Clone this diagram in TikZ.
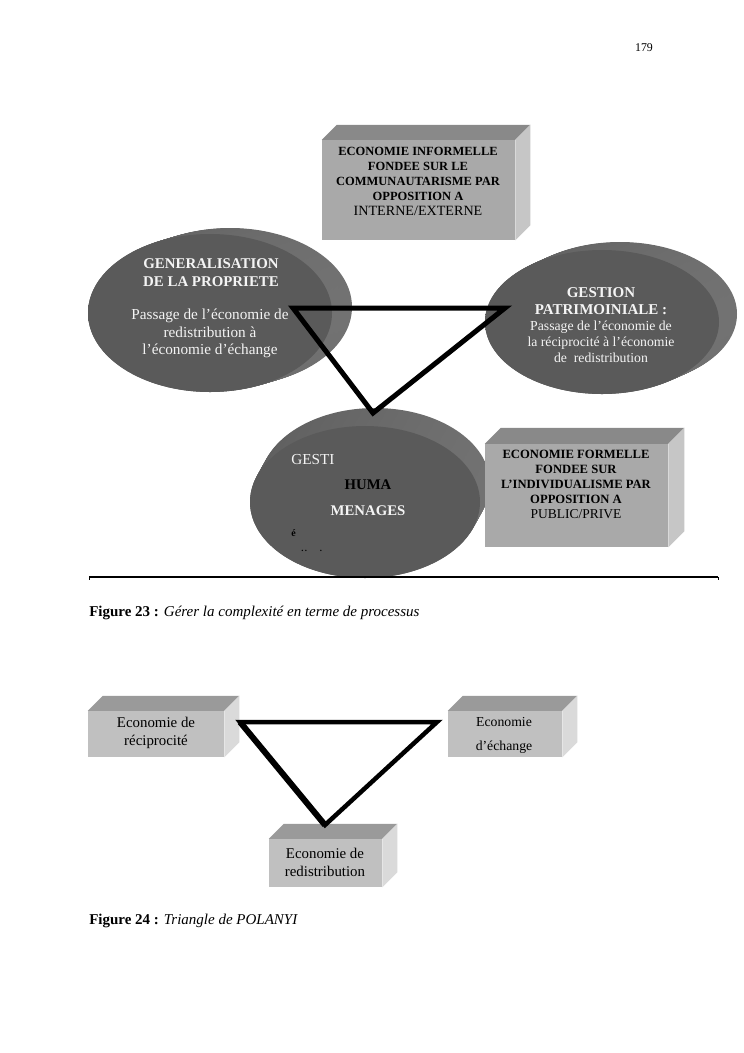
\documentclass[tikz,border=0pt]{standalone}
\usepackage{fontspec}
\setmainfont{Liberation Serif}
\usetikzlibrary{shapes.geometric,calc,fit}
\definecolor{ellfront}{HTML}{5A5A5A}
\definecolor{ellsideL}{HTML}{5F5F5F}
\definecolor{ellsideR}{HTML}{727272}
\definecolor{boxfront}{HTML}{A9A9A9}
\definecolor{boxtop}{HTML}{898989}
\definecolor{boxside}{HTML}{C6C6C6}
\definecolor{lboxfront}{HTML}{C0C0C0}
\definecolor{lboxtop}{HTML}{9A9A9A}
\definecolor{lboxside}{HTML}{DADADA}
\definecolor{txtwhite}{HTML}{F4F4F4}
% 3D box: name, x1, y1, x2, y2, depth, front, top, side
\newcommand\cubebox[9]{%
  \coordinate (#1-a) at (#2,#3);
  \coordinate (#1-b) at (#4,#5);
  \node[fit=(#1-a)(#1-b), inner sep=0pt, fill=#7] (#1) {};
  \fill[#8] (#1.north west) -- ++(#6,-#6) -- ($(#1.north east)+(#6,-#6)$) -- (#1.north east) -- cycle;
  \fill[#9] (#1.north east) -- ++(#6,-#6) -- ($(#1.south east)+(#6,-#6)$) -- (#1.south east) -- cycle;
}
% disk: name, cx, cy, rx, ry, dx, dy
\newcommand\disk[7]{%
  \foreach \k in {0,...,16}{%
    \pgfmathsetmacro\f{1-\k/16}%
    \shade[left color=ellsideL, right color=ellsideR] ({#2+\f*#6},{#3+\f*#7}) ellipse [x radius=#4, y radius=#5];
  }
  \node[ellipse, fill=ellfront, inner sep=0pt, minimum width={2*#4*0.8pt}, minimum height={2*#5*0.8pt}] (#1) at (#2,#3) {};
}
\begin{document}
\begin{tikzpicture}[x=0.8pt,y=-0.8pt,
  whitetxt/.style={text=txtwhite, align=center, inner sep=0pt},
  blacktxt/.style={text=black, align=center, inner sep=0pt},
  tri/.style={line width=4pt, black, line join=miter},
  tri2/.style={line width=3.6pt, black, line join=miter}]
\useasboundingbox[fill=white] (0,0) rectangle (744,1053);

\node[blacktxt, font=\fontsize{9.5}{11}\selectfont] (pagenum) at (644,48) {179};

% ---------- Figure 23 ----------
\cubebox{informelle}{322}{140}{515}{240}{15}{boxfront}{boxtop}{boxside}
\node[blacktxt] (informelletxt) at (418,181.5) {\fontsize{10}{11.6}\selectfont\bfseries ECONOMIE INFORMELLE\\ \fontsize{10}{11.6}\selectfont\bfseries FONDEE SUR LE\\ \fontsize{10}{11.6}\selectfont\bfseries COMMUNAUTARISME PAR\\ \fontsize{10}{11.6}\selectfont\bfseries OPPOSITION A\\ \fontsize{11.3}{13}\selectfont INTERNE/EXTERNE};

\disk{gen}{210}{313}{122}{79}{20}{-6}
\node[whitetxt, font=\fontsize{11.9}{14}\selectfont\bfseries] (gentitle) at (211,272.5) {GENERALISATION\\DE LA PROPRIETE};
\node[whitetxt, font=\fontsize{12.2}{14}\selectfont] (genbody) at (210,333.5) {Passage de l’économie de\\redistribution à\\l’économie d’échange};

\disk{patri}{602}{322}{117}{72}{18}{-8}
\node[whitetxt, font=\fontsize{12}{13.6}\selectfont\bfseries] (patrititle) at (601,301.5) {GESTION\\PATRIMOINIALE :};
\node[whitetxt, font=\fontsize{11}{12.8}\selectfont] (patribody) at (601,342) {Passage de l’économie de\\la réciprocité à l’économie\\de\ \ redistribution};

\disk{humain}{365}{502}{115}{76}{10}{-18}
\node[text=txtwhite, anchor=west, inner sep=0pt, font=\fontsize{12.2}{14}\selectfont] (gesti) at (291,460) {GESTI};
\node[blacktxt, font=\fontsize{11.8}{14}\selectfont\bfseries] (huma) at (368,485) {HUMA};
\node[whitetxt, font=\fontsize{11.8}{14}\selectfont\bfseries] (menages) at (368,511) {MENAGES};
\node[text=black, anchor=west, inner sep=0pt, font=\fontsize{8}{9}\selectfont\bfseries] (eacute) at (291,533) {é};
\node[text=black, anchor=west, inner sep=0pt, font=\fontsize{7}{8}\selectfont\bfseries] (dots) at (301,551) {.\,.\hspace{3.2ex}.};

\cubebox{formelle}{485}{444}{668}{547}{16}{boxfront}{boxtop}{boxside}
\node[blacktxt] (formelletxt) at (576,484.5) {\fontsize{10.1}{11.4}\selectfont\bfseries ECONOMIE FORMELLE\\ \fontsize{10.1}{11.4}\selectfont\bfseries FONDEE SUR\\ \fontsize{10.1}{11.4}\selectfont\bfseries L’INDIVIDUALISME PAR\\ \fontsize{10.1}{11.4}\selectfont\bfseries OPPOSITION A\\ \fontsize{10.8}{12.6}\selectfont PUBLIC/PRIVE};

\coordinate (t1a) at (293,308);
\coordinate (t1b) at (505,308);
\coordinate (t1c) at (373,413);
\draw[tri] (t1a) -- (t1b) -- (t1c) -- cycle;

\coordinate (rule-l) at (89,577);
\coordinate (rule-r) at (718,577);
\draw[line width=1.1pt] (rule-l) -- (rule-r);
\draw[line width=0.5pt] (rule-l) -- ++(0,3);
\draw[line width=0.5pt] (rule-r) -- ++(0,3);

\node[anchor=west, inner sep=0pt, font=\fontsize{12}{14}\selectfont] (cap23) at (89,613) {\textbf{Figure 23 :} \textit{Gérer la complexité en terme de processus}};

% ---------- Figure 24 ----------
\cubebox{recip}{88}{711}{224}{757}{15}{lboxfront}{lboxtop}{lboxside}
\node[blacktxt, font=\fontsize{11.9}{14.4}\selectfont] (reciptxt) at (156,733) {Economie de\\réciprocité};

\cubebox{echange}{448}{711}{562}{757}{15}{lboxfront}{lboxtop}{lboxside}
\node[blacktxt, font=\fontsize{11}{19.2}\selectfont] (echangetxt) at (504,735) {Economie\\d’échange};

\cubebox{redis}{269}{839}{382}{887}{15}{lboxfront}{lboxtop}{lboxside}
\node[blacktxt, font=\fontsize{11.9}{14.4}\selectfont] (redistxt) at (325,862) {Economie de\\redistribution};

\coordinate (t2a) at (240,722);
\coordinate (t2b) at (437,722);
\coordinate (t2c) at (325,825);
\draw[tri2] (t2a) -- (t2b) -- (t2c) -- cycle;
\draw[line width=4.8pt, black] (t2a) -- (t2c);

\node[anchor=west, inner sep=0pt, font=\fontsize{12}{14}\selectfont] (cap24) at (89,921) {\textbf{Figure 24 :} \textit{Triangle de POLANYI}};
\end{tikzpicture}
\end{document}
